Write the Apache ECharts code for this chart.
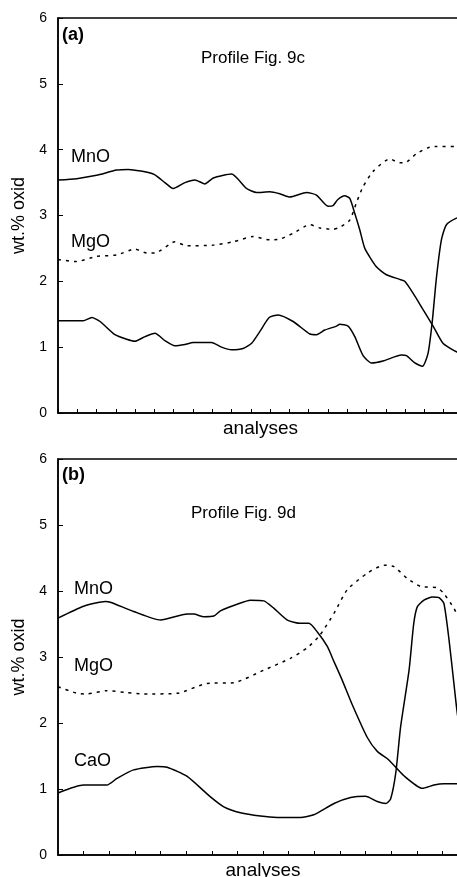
<!DOCTYPE html>
<html>
<head>
<meta charset="utf-8">
<script src="https://cdn.jsdelivr.net/npm/echarts@6/dist/echarts.min.js"></script>
<style>
html,body{margin:0;padding:0;background:#fff;}
#c{width:457px;height:877px;}
</style>
</head>
<body>
<div id="c"></div>
<script>
// y-axis tick labels
const yTicks = [0, 1, 2, 3, 4, 5, 6];

// Panel (a): Profile Fig. 9c  (x = analysis position in tick units)
const aMnO_x = [0, 0.97, 2.0, 3.04, 3.64, 4.94, 5.54, 5.97, 6.58, 7.10, 7.62, 8.05, 9.0, 9.78, 10.3, 10.98, 11.5, 12.02, 12.89, 13.4, 14.0, 14.26, 14.5, 14.87, 15.13, 15.39, 15.65, 15.91, 16.51, 17.03, 17.72, 17.98, 18.41, 18.93, 19.45, 19.96, 20.66, 21];
const aMnO_y = [3.54, 3.56, 3.61, 3.69, 3.70, 3.63, 3.50, 3.41, 3.50, 3.54, 3.48, 3.57, 3.63, 3.41, 3.35, 3.36, 3.33, 3.28, 3.35, 3.31, 3.14, 3.15, 3.24, 3.30, 3.26, 3.03, 2.78, 2.50, 2.22, 2.10, 2.03, 2.00, 1.82, 1.57, 1.32, 1.06, 0.93, 0.92];

const aMgO_x = [0, 0.97, 2.0, 3.04, 3.99, 4.6, 5.03, 6.06, 6.67, 8.05, 9.08, 10.12, 10.98, 11.5, 12.19, 13.06, 13.58, 14.26, 14.61, 15.13, 15.48, 15.82, 16.34, 17.2, 17.72, 17.98, 18.59, 19.19, 19.62, 20.67, 21];
const aMgO_y = [2.33, 2.30, 2.38, 2.40, 2.49, 2.43, 2.43, 2.60, 2.54, 2.55, 2.60, 2.68, 2.63, 2.64, 2.73, 2.86, 2.81, 2.79, 2.82, 2.93, 3.20, 3.44, 3.67, 3.86, 3.80, 3.80, 3.94, 4.03, 4.05, 4.05, 4.05];

const aCaO_x = [0, 1.31, 1.75, 2.18, 2.95, 3.56, 3.99, 4.51, 5.03, 5.54, 6.06, 6.58, 7.01, 7.96, 8.48, 9.0, 9.6, 10.04, 10.47, 10.95, 11.41, 12.19, 13.06, 13.4, 13.83, 14.44, 14.61, 15.04, 15.39, 15.82, 16.25, 16.85, 17.81, 18.07, 18.5, 18.9, 19.19, 19.41, 19.62, 19.88, 20.14, 20.66, 21];
const aCaO_y = [1.40, 1.40, 1.45, 1.39, 1.19, 1.12, 1.09, 1.16, 1.21, 1.10, 1.02, 1.04, 1.07, 1.07, 1.00, 0.96, 0.98, 1.06, 1.24, 1.45, 1.49, 1.39, 1.20, 1.19, 1.26, 1.32, 1.35, 1.32, 1.16, 0.87, 0.76, 0.79, 0.88, 0.87, 0.76, 0.71, 0.91, 1.40, 2.05, 2.63, 2.86, 2.96, 2.98];

// Panel (b): Profile Fig. 9d
const bMnO_x = [0, 1.0, 1.85, 2.04, 2.95, 4.0, 5.04, 5.3, 5.69, 6.08, 6.34, 6.99, 7.51, 8.03, 8.42, 8.95, 9.46, 9.79, 10.12, 10.51, 10.77, 11.09, 11.48, 12.07, 12.46, 12.91, 13.5, 14.22, 14.67, 15.06, 15.6, 16];
const bMnO_y = [3.59, 3.77, 3.84, 3.83, 3.69, 3.56, 3.65, 3.65, 3.61, 3.62, 3.70, 3.80, 3.86, 3.85, 3.74, 3.56, 3.51, 3.51, 3.38, 3.16, 2.93, 2.65, 2.28, 1.78, 1.57, 1.44, 1.20, 1.01, 1.06, 1.08, 1.08, 1.08];

const bMgO_x = [0, 0.74, 1.13, 1.91, 2.7, 3.34, 4.65, 5.82, 6.86, 8.03, 9.07, 9.73, 10.2, 10.77, 11.29, 12.07, 12.72, 13.11, 13.63, 14.15, 14.8, 15.06, 15.45, 15.6, 16];
const bMgO_y = [2.55, 2.45, 2.44, 2.49, 2.46, 2.44, 2.45, 2.60, 2.61, 2.80, 2.98, 3.14, 3.32, 3.66, 4.02, 4.27, 4.39, 4.37, 4.19, 4.07, 4.05, 3.96, 3.74, 3.62, 3.35];

const bCaO_x = [0, 1.0, 1.91, 2.3, 2.95, 3.87, 4.26, 5.04, 5.95, 6.47, 7.12, 7.9, 8.55, 9.46, 9.98, 10.77, 11.42, 12.0, 12.46, 12.79, 12.98, 13.18, 13.37, 13.7, 13.88, 14.02, 14.28, 14.61, 14.87, 15.06, 15.26, 15.45, 15.6, 16];
const bCaO_y = [0.94, 1.06, 1.06, 1.16, 1.29, 1.34, 1.33, 1.19, 0.88, 0.73, 0.64, 0.59, 0.57, 0.57, 0.61, 0.78, 0.87, 0.89, 0.81, 0.78, 0.85, 1.24, 1.94, 2.80, 3.50, 3.76, 3.86, 3.91, 3.90, 3.81, 3.26, 2.60, 2.10, 1.30];

const zip = (xs, ys) => xs.map((x, i) => [x, ys[i]]);
const FONT = '"Liberation Sans", Arial, Helvetica, sans-serif';

function xAxisCfg(gi, max) {
  return {
    type: 'value', gridIndex: gi, min: 0, max: max, interval: 1,
    name: 'analyses', nameLocation: 'middle', nameGap: 6,
    nameTextStyle: { fontFamily: FONT, fontSize: 19, color: '#000' },
    axisLine: { show: true, lineStyle: { color: '#000', width: 1.5 } },
    axisTick: { show: true, inside: true, length: 4, lineStyle: { color: '#000', width: 1 } },
    axisLabel: { show: false },
    splitLine: { show: false }
  };
}
function yAxisCfg(gi) {
  return {
    type: 'value', gridIndex: gi, min: yTicks[0], max: yTicks[yTicks.length - 1], interval: 1,
    name: 'wt.% oxid', nameLocation: 'middle', nameGap: 22, nameRotate: 90,
    nameTextStyle: { fontFamily: FONT, fontSize: 18, color: '#000' },
    axisLine: { show: true, lineStyle: { color: '#000', width: 1.5 } },
    axisTick: { show: true, inside: true, length: 5, lineStyle: { color: '#000', width: 1 } },
    axisLabel: { show: true, margin: 11, fontFamily: FONT, fontSize: 14, color: '#000' },
    splitLine: { show: false }
  };
}
function lineSeries(name, xi, data, dashed) {
  return {
    name: name, type: 'line', xAxisIndex: xi, yAxisIndex: xi,
    data: data, showSymbol: false, smooth: 0.2, animation: false,
    lineStyle: { color: '#000', width: 1.5, type: dashed ? [3, 5] : 'solid' },
    clip: true
  };
}
function txt(x, y, s, size, bold) {
  return { type: 'text', left: x, top: y, style: { text: s, fontFamily: FONT, fontSize: size, fontWeight: bold ? 'bold' : 'normal', fill: '#000' } };
}

const chart = echarts.init(document.getElementById('c'), null, { renderer: 'canvas' });
chart.setOption({
  backgroundColor: '#fff',
  animation: false,
  grid: [
    { left: 58, width: 405, top: 18, height: 395, outerBoundsMode: 'none', containLabel: false, show: true, borderColor: '#000', borderWidth: 1.5, backgroundColor: 'transparent' },
    { left: 58, width: 410, top: 459, height: 396, outerBoundsMode: 'none', containLabel: false, show: true, borderColor: '#000', borderWidth: 1.5, backgroundColor: 'transparent' }
  ],
  xAxis: [xAxisCfg(0, 21), xAxisCfg(1, 16)],
  yAxis: [yAxisCfg(0), yAxisCfg(1)],
  series: [
    lineSeries('MnO (a)', 0, zip(aMnO_x, aMnO_y), false),
    lineSeries('MgO (a)', 0, zip(aMgO_x, aMgO_y), true),
    lineSeries('CaO (a)', 0, zip(aCaO_x, aCaO_y), false),
    lineSeries('MnO (b)', 1, zip(bMnO_x, bMnO_y), false),
    lineSeries('MgO (b)', 1, zip(bMgO_x, bMgO_y), true),
    lineSeries('CaO (b)', 1, zip(bCaO_x, bCaO_y), false)
  ],
  graphic: [
    txt(62, 26, '(a)', 18, true),
    txt(201, 50, 'Profile Fig. 9c', 17, false),
    txt(71, 148, 'MnO', 18, false),
    txt(71, 233, 'MgO', 18, false),
    txt(62, 466, '(b)', 18, true),
    txt(191, 505, 'Profile Fig. 9d', 17, false),
    txt(74, 580, 'MnO', 18, false),
    txt(74, 657, 'MgO', 18, false),
    txt(74, 752, 'CaO', 18, false)
  ]
});
</script>
</body>
</html>
